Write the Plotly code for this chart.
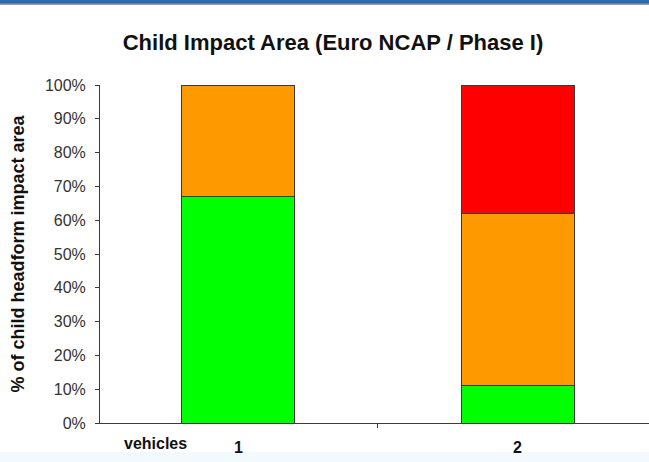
import plotly.graph_objects as go

categories = ["1", "2"]
green_share = [0.67, 0.11]
orange_share = [0.33, 0.51]
red_share = [None, 0.38]
y_tick_values = [i / 10 for i in range(11)]
y_tick_labels = [f"{i * 10}%" for i in range(11)]

W, H = 649, 462
ML, MR, MT, MB = 100, 0, 85, 39
plot_h = H - MT - MB

FONT = "Arial, Liberation Sans, sans-serif"
line_col = "#3a3a3a"

fig = go.Figure()
for name, vals, col in [("green", green_share, "#00ff00"),
                        ("orange", orange_share, "#ff9900"),
                        ("red", red_share, "#ff0000")]:
    fig.add_trace(go.Bar(x=categories, y=vals, name=name, width=0.405,
                         marker=dict(color=col, line=dict(color=line_col, width=1))))


def py(pix):
    # pixel from top of figure -> paper y
    return 1 + (MT - pix) / plot_h


shapes = [
    dict(type="rect", xref="paper", yref="paper", x0=-ML / (W - ML - MR), x1=1,
         y0=py(3.5), y1=py(0), fillcolor="#2b6cb0", line_width=0, layer="below"),
    dict(type="rect", xref="paper", yref="paper", x0=-ML / (W - ML - MR), x1=1,
         y0=py(4.6), y1=py(3.5), fillcolor="#3c4656", line_width=0, layer="below"),
    dict(type="rect", xref="paper", yref="paper", x0=-ML / (W - ML - MR), x1=1,
         y0=py(H), y1=py(452), fillcolor="#f3fafd", line_width=0, layer="below"),
]

fig.update_layout(
    width=W, height=H,
    margin=dict(l=ML, r=MR, t=MT, b=MB, pad=0),
    barmode="stack",
    showlegend=False,
    plot_bgcolor="white",
    paper_bgcolor="white",
    font=dict(family=FONT, color="#222"),
    title=dict(text="<b>Child Impact Area (Euro NCAP / Phase I)</b>",
               x=333 / W, xref="container", xanchor="center",
               y=1 - 42 / H, yref="container", yanchor="middle",
               font=dict(size=22, color="#111", family=FONT)),
    shapes=shapes,
    annotations=[dict(text="<b>vehicles</b>", xref="paper", yref="paper",
                      x=(155 - ML) / (W - ML - MR), y=py(443),
                      xanchor="center", yanchor="middle", showarrow=False,
                      font=dict(size=16, color="#111", family=FONT))],
)

fig.update_xaxes(
    type="category", range=[-0.496, 1.471],
    showline=True, linecolor=line_col, linewidth=1,
    ticks="outside", tickson="boundaries", ticklen=4, tickcolor=line_col,
    tickfont=dict(size=16, color="#111", family=FONT),
    tickvals=categories, ticktext=[f"<b>{c}</b>" for c in categories],
    ticklabelstandoff=10,
    showgrid=False, zeroline=False, fixedrange=True,
)
fig.update_yaxes(
    range=[0, 1], tickvals=y_tick_values, ticktext=y_tick_labels,
    showline=True, linecolor=line_col, linewidth=1,
    ticks="outside", ticklen=4, tickcolor=line_col,
    tickfont=dict(size=16, color="#333", family=FONT),
    ticklabelstandoff=6,
    showgrid=False, zeroline=False,
    title=dict(text="<b>% of child headform impact area</b>",
               font=dict(size=18, color="#111", family=FONT), standoff=15),
)

fig.write_html("out.html")
